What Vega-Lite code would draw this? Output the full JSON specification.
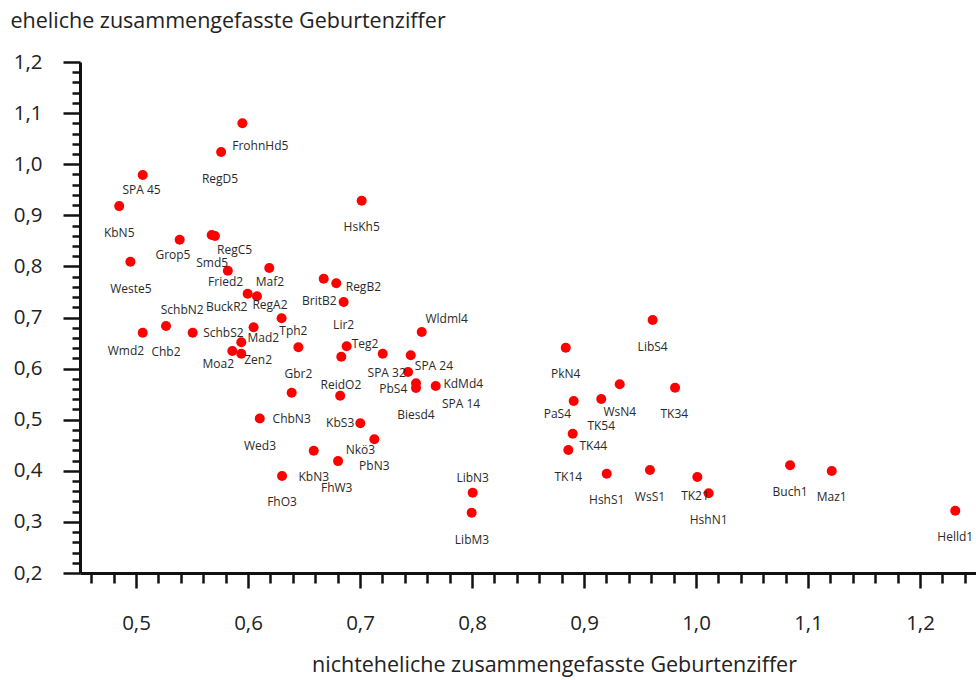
{
  "$schema": "https://vega.github.io/schema/vega-lite/v6.json",
  "width": 896,
  "height": 511,
  "autosize": {"type": "none"},
  "padding": {"left": 80, "top": 62, "right": 0, "bottom": 107},
  "background": "white",
  "config": {
    "view": {"stroke": null},
    "font": "Open Sans",
    "axis": {"grid": false, "domainColor": "#111", "domainWidth": 3, "tickColor": "#111", "tickWidth": 2.5, "labelFont": "Open Sans", "titleFont": "Open Sans", "labelColor": "#222", "titleColor": "#222", "labelFontSize": 20.5, "titleFontSize": 21.5, "titleFontWeight": "normal", "labelOverlap": false, "labelFlush": false}
  },
  "data": {"values": [
    {"n": "FrohnHd5", "x": 0.595, "y": 1.080, "lx": 0.611, "ly": 1.036},
    {"n": "RegD5", "x": 0.576, "y": 1.024, "lx": 0.575, "ly": 0.971},
    {"n": "SPA 45", "x": 0.506, "y": 0.979, "lx": 0.505, "ly": 0.950},
    {"n": "KbN5", "x": 0.485, "y": 0.918, "lx": 0.485, "ly": 0.866},
    {"n": "HsKh5", "x": 0.7015, "y": 0.9286, "lx": 0.7015, "ly": 0.8765},
    {"n": "Grop5", "x": 0.539, "y": 0.852, "lx": 0.533, "ly": 0.822},
    {"n": "RegC5", "x": 0.5705, "y": 0.8595, "lx": 0.588, "ly": 0.832},
    {"n": "Smd5", "x": 0.5676, "y": 0.8615, "lx": 0.568, "ly": 0.807},
    {"n": "Weste5", "x": 0.495, "y": 0.809, "lx": 0.4955, "ly": 0.756},
    {"n": "Fried2", "x": 0.582, "y": 0.7916, "lx": 0.580, "ly": 0.769},
    {"n": "Maf2", "x": 0.619, "y": 0.797, "lx": 0.6196, "ly": 0.770},
    {"n": "BuckR2", "x": 0.5997, "y": 0.7466, "lx": 0.581, "ly": 0.720},
    {"n": "RegA2", "x": 0.608, "y": 0.7415, "lx": 0.6196, "ly": 0.7245},
    {"n": "Tph2", "x": 0.630, "y": 0.6986, "lx": 0.6405, "ly": 0.6736},
    {"n": "Chb2", "x": 0.5268, "y": 0.6834, "lx": 0.5268, "ly": 0.632},
    {"n": "SchbN2", "x": 0.5506, "y": 0.670, "lx": 0.5413, "ly": 0.714},
    {"n": "Wmd2", "x": 0.506, "y": 0.670, "lx": 0.491, "ly": 0.634},
    {"n": "Mad2", "x": 0.605, "y": 0.681, "lx": 0.6137, "ly": 0.6605},
    {"n": "SchbS2", "x": 0.594, "y": 0.6517, "lx": 0.578, "ly": 0.669},
    {"n": "Moa2", "x": 0.586, "y": 0.6344, "lx": 0.5735, "ly": 0.6084},
    {"n": "Zen2", "x": 0.594, "y": 0.629, "lx": 0.609, "ly": 0.6168},
    {"n": "Gbr2", "x": 0.645, "y": 0.6417, "lx": 0.645, "ly": 0.589},
    {"n": "ChbN3", "x": 0.639, "y": 0.5528, "lx": 0.639, "ly": 0.5004},
    {"n": "Wed3", "x": 0.6105, "y": 0.5023, "lx": 0.6107, "ly": 0.449},
    {"n": "BritB2", "x": 0.6676, "y": 0.776, "lx": 0.6637, "ly": 0.733},
    {"n": "RegB2", "x": 0.6788, "y": 0.767, "lx": 0.703, "ly": 0.760},
    {"n": "Lir2", "x": 0.6854, "y": 0.7303, "lx": 0.6854, "ly": 0.6853},
    {"n": "Teg2", "x": 0.6881, "y": 0.6436, "lx": 0.7045, "ly": 0.6487},
    {"n": "ReidO2", "x": 0.6833, "y": 0.6233, "lx": 0.683, "ly": 0.567},
    {"n": "KbS3", "x": 0.6823, "y": 0.5468, "lx": 0.6823, "ly": 0.494},
    {"n": "Nkö3", "x": 0.7003, "y": 0.493, "lx": 0.7003, "ly": 0.4407},
    {"n": "PbN3", "x": 0.7128, "y": 0.4616, "lx": 0.7128, "ly": 0.410},
    {"n": "KbN3", "x": 0.6587, "y": 0.4393, "lx": 0.6587, "ly": 0.388},
    {"n": "FhW3", "x": 0.6804, "y": 0.419, "lx": 0.6792, "ly": 0.3665},
    {"n": "FhO3", "x": 0.6304, "y": 0.3898, "lx": 0.6304, "ly": 0.3395},
    {"n": "Wldml4", "x": 0.7551, "y": 0.6716, "lx": 0.7774, "ly": 0.697},
    {"n": "SPA 32", "x": 0.7203, "y": 0.6292, "lx": 0.7238, "ly": 0.5908},
    {"n": "SPA 24", "x": 0.7453, "y": 0.626, "lx": 0.766, "ly": 0.6057},
    {"n": "PbS4", "x": 0.7429, "y": 0.5933, "lx": 0.7297, "ly": 0.5595},
    {"n": "SPA 14", "x": 0.750, "y": 0.5712, "lx": 0.7902, "ly": 0.5307},
    {"n": "Biesd4", "x": 0.750, "y": 0.562, "lx": 0.750, "ly": 0.5092},
    {"n": "KdMd4", "x": 0.7676, "y": 0.566, "lx": 0.7922, "ly": 0.5693},
    {"n": "LibN3", "x": 0.8006, "y": 0.357, "lx": 0.8006, "ly": 0.3853},
    {"n": "LibM3", "x": 0.7997, "y": 0.318, "lx": 0.8, "ly": 0.2646},
    {"n": "LibS4", "x": 0.9613, "y": 0.6951, "lx": 0.9613, "ly": 0.6429},
    {"n": "PkN4", "x": 0.8837, "y": 0.6409, "lx": 0.8837, "ly": 0.5888},
    {"n": "WsN4", "x": 0.9319, "y": 0.5693, "lx": 0.9319, "ly": 0.5157},
    {"n": "TK34", "x": 0.9813, "y": 0.5626, "lx": 0.9806, "ly": 0.5106},
    {"n": "PaS4", "x": 0.8908, "y": 0.5366, "lx": 0.8762, "ly": 0.5117},
    {"n": "TK54", "x": 0.9154, "y": 0.5405, "lx": 0.9154, "ly": 0.4883},
    {"n": "TK44", "x": 0.8899, "y": 0.4726, "lx": 0.9083, "ly": 0.4485},
    {"n": "TK14", "x": 0.886, "y": 0.4407, "lx": 0.886, "ly": 0.3885},
    {"n": "HshS1", "x": 0.9203, "y": 0.3943, "lx": 0.9203, "ly": 0.3429},
    {"n": "WsS1", "x": 0.9589, "y": 0.4016, "lx": 0.9589, "ly": 0.3493},
    {"n": "TK21", "x": 1.0012, "y": 0.3879, "lx": 0.9991, "ly": 0.3513},
    {"n": "HshN1", "x": 1.0113, "y": 0.356, "lx": 1.0113, "ly": 0.3037},
    {"n": "Buch1", "x": 1.084, "y": 0.4108, "lx": 1.084, "ly": 0.3591},
    {"n": "Maz1", "x": 1.1212, "y": 0.3996, "lx": 1.1212, "ly": 0.3481},
    {"n": "Helld1", "x": 1.2315, "y": 0.3219, "lx": 1.2315, "ly": 0.271}
  ]},
  "layer": [
    {
      "mark": {"type": "point", "filled": true, "color": "#ff0000", "opacity": 1, "size": 100},
      "encoding": {
        "x": {"field": "x", "type": "quantitative",
          "scale": {"domain": [0.45, 1.25], "nice": false, "zero": false},
          "axis": {
            "title": "nichteheliche zusammengefasste Geburtenziffer",
            "values": [0.46,0.48,0.5,0.52,0.54,0.56,0.58,0.6,0.62,0.64,0.66,0.68,0.7,0.72,0.74,0.76,0.78,0.8,0.82,0.84,0.86,0.88,0.9,0.92,0.94,0.96,0.98,1.0,1.02,1.04,1.06,1.08,1.1,1.12,1.14,1.16,1.18,1.2,1.22,1.24],
            "labelExpr": "abs(datum.value*10 - round(datum.value*10)) < 0.001 ? replace(format(datum.value, '.1f'), '.', ',') : ''",
            "tickSize": {"condition": {"test": "abs(datum.value*10 - round(datum.value*10)) < 0.001", "value": 15}, "value": 10},
            "labelPadding": 25,
            "labelOverlap": false,
            "titleX": 474,
            "titleY": 92,
            "titleAlign": "center",
            "titleBaseline": "middle"
          }
        },
        "y": {"field": "y", "type": "quantitative",
          "scale": {"domain": [0.2, 1.2], "nice": false, "zero": false},
          "axis": {
            "title": "eheliche zusammengefasste Geburtenziffer",
            "values": [0.2,0.22,0.24,0.26,0.28,0.3,0.32,0.34,0.36,0.38,0.4,0.42,0.44,0.46,0.48,0.5,0.52,0.54,0.56,0.58,0.6,0.62,0.64,0.66,0.68,0.7,0.72,0.74,0.76,0.78,0.8,0.82,0.84,0.86,0.88,0.9,0.92,0.94,0.96,0.98,1.0,1.02,1.04,1.06,1.08,1.1,1.12,1.14,1.16,1.18,1.2],
            "labelExpr": "abs(datum.value*10 - round(datum.value*10)) < 0.001 ? replace(format(datum.value, '.1f'), '.', ',') : ''",
            "tickSize": {"condition": {"test": "abs(datum.value*10 - round(datum.value*10)) < 0.001", "value": 17}, "value": 8},
            "labelPadding": 21,
            "labelOverlap": false,
            "titleAngle": 0,
            "titleX": -70,
            "titleY": -41,
            "titleAlign": "left",
            "titleBaseline": "middle"
          }
        }
      }
    },
    {
      "mark": {"type": "text", "fontSize": 12, "color": "#2a2a2a", "align": "center", "baseline": "middle", "font": "Open Sans"},
      "encoding": {
        "x": {"field": "lx", "type": "quantitative", "scale": {"domain": [0.45, 1.25], "nice": false, "zero": false},
          "axis": {
            "title": "nichteheliche zusammengefasste Geburtenziffer",
            "values": [0.46,0.48,0.5,0.52,0.54,0.56,0.58,0.6,0.62,0.64,0.66,0.68,0.7,0.72,0.74,0.76,0.78,0.8,0.82,0.84,0.86,0.88,0.9,0.92,0.94,0.96,0.98,1.0,1.02,1.04,1.06,1.08,1.1,1.12,1.14,1.16,1.18,1.2,1.22,1.24],
            "labelExpr": "abs(datum.value*10 - round(datum.value*10)) < 0.001 ? replace(format(datum.value, '.1f'), '.', ',') : ''",
            "tickSize": {"condition": {"test": "abs(datum.value*10 - round(datum.value*10)) < 0.001", "value": 15}, "value": 10},
            "labelPadding": 25,
            "labelOverlap": false,
            "titleX": 474,
            "titleY": 92,
            "titleAlign": "center",
            "titleBaseline": "middle"
          }
        },
        "y": {"field": "ly", "type": "quantitative", "scale": {"domain": [0.2, 1.2], "nice": false, "zero": false},
          "axis": {
            "title": "eheliche zusammengefasste Geburtenziffer",
            "values": [0.2,0.22,0.24,0.26,0.28,0.3,0.32,0.34,0.36,0.38,0.4,0.42,0.44,0.46,0.48,0.5,0.52,0.54,0.56,0.58,0.6,0.62,0.64,0.66,0.68,0.7,0.72,0.74,0.76,0.78,0.8,0.82,0.84,0.86,0.88,0.9,0.92,0.94,0.96,0.98,1.0,1.02,1.04,1.06,1.08,1.1,1.12,1.14,1.16,1.18,1.2],
            "labelExpr": "abs(datum.value*10 - round(datum.value*10)) < 0.001 ? replace(format(datum.value, '.1f'), '.', ',') : ''",
            "tickSize": {"condition": {"test": "abs(datum.value*10 - round(datum.value*10)) < 0.001", "value": 17}, "value": 8},
            "labelPadding": 21,
            "labelOverlap": false,
            "titleAngle": 0,
            "titleX": -70,
            "titleY": -41,
            "titleAlign": "left",
            "titleBaseline": "middle"
          }
        },
        "text": {"field": "n"}
      }
    }
  ]
}
